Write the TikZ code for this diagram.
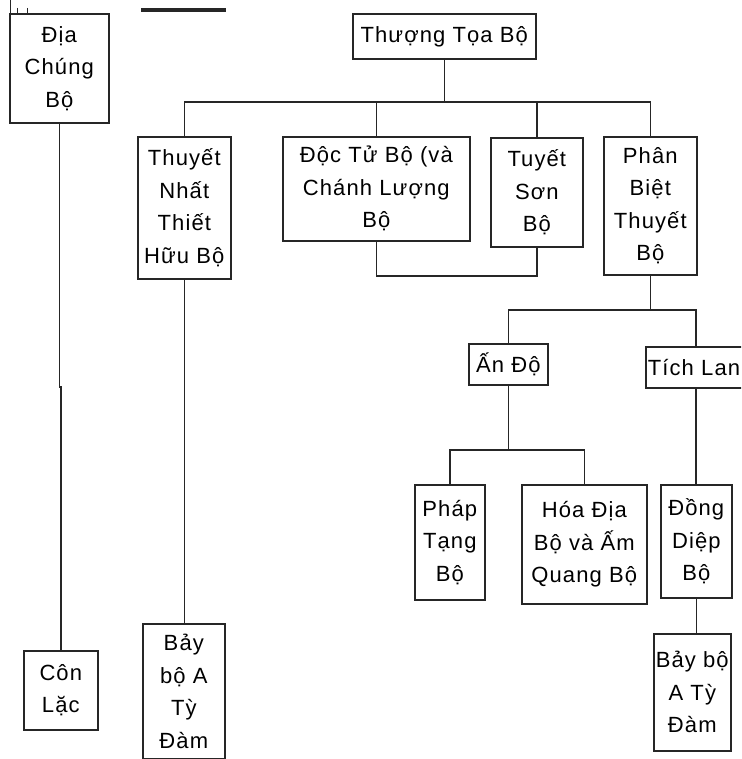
\documentclass[tikz,border=0pt]{standalone}
\usepackage{fontspec}
\setmainfont{Liberation Sans}[LetterSpace=5]
\begin{document}
\begin{tikzpicture}[x=1pt,y=-1pt,
  box/.style={draw=black!85, line width=1.6pt, anchor=north west, inner sep=0pt,
    align=center, font=\fontsize{22}{32.5}\selectfont},
  link/.style={draw=black!85, line width=1.6pt}]
\useasboundingbox (0,0) rectangle (741,759);
\clip (0,0) rectangle (741,759);
% top fragments
\draw[link, line width=3.2pt] (141,10) -- (226,10);
\draw[link, line width=0.8pt] (10,0) -- (10,13) (17,8) -- (17,13) (27,8) -- (27,13) (10,13) -- (35,13);
% boxes
\node[box, minimum width=99, minimum height=109] (dia) at (9,13) {Địa\\Chúng\\Bộ};
\node[box, minimum width=183, minimum height=45] (thuong) at (352,13) {Thượng Tọa Bộ};
\node[box, minimum width=93, minimum height=142] (thuyet) at (137,136) {Thuyết\\Nhất\\Thiết\\Hữu Bộ};
\node[box, minimum width=187, minimum height=104] (doc) at (282,136) {Độc Tử Bộ (và\\Chánh Lượng\\Bộ};
\node[box, minimum width=92, minimum height=109] (tuyet) at (490,137) {Tuyết\\Sơn\\Bộ};
\node[box, minimum width=93, minimum height=138] (phan) at (603,136) {Phân\\Biệt\\Thuyết\\Bộ};
\node[box, minimum width=79, minimum height=41] (ando) at (468,343) {Ấn Độ};
\node[box, minimum width=100, minimum height=41, text width=96, inner xsep=2pt, align=left] (tich) at (645,346) {Tích Lan};
\node[box, minimum width=70, minimum height=115] (phap) at (414,484) {Pháp\\Tạng\\Bộ};
\node[box, minimum width=125, minimum height=119] (hoa) at (521,484) {Hóa Địa\\Bộ và Ấm\\Quang Bộ};
\node[box, minimum width=71, minimum height=113] (dong) at (660,484) {Đồng\\Diệp\\Bộ};
\node[box, minimum width=74, minimum height=79] (con) at (23,650) {Côn\\Lặc};
\node[box, minimum width=82, minimum height=135] (bayL) at (142,623) {Bảy\\bộ A\\Tỳ\\Đàm};
\node[box, minimum width=77, minimum height=117] (bayR) at (653,633) {Bảy bộ\\A Tỳ\\Đàm};
% helper coordinates
\coordinate (j1) at (0,387);
\coordinate (bus) at (0,102);
\coordinate (b2) at (0,276);
\coordinate (b3) at (0,310);
\coordinate (b4) at (0,450);
% connectors
\draw[link] (dia.south) -- (dia.south |- j1) -| (con.north);
\draw[link] (thuong.south) -- (thuong.south |- bus);
\draw[link] (thuyet.north) |- (phan.north |- bus) -- (phan.north);
\draw[link] (doc.north) -- (doc.north |- bus);
\draw[link] (tuyet.north) -- (tuyet.north |- bus);
\draw[link] (doc.south) |- (tuyet.south |- b2) -- (tuyet.south);
\draw[link] (thuyet.south) -- (thuyet.south |- bayL.north);
\draw[link] (phan.south) -- (phan.south |- b3);
\draw[link] (ando.north) |- (tich.north |- b3) -- (tich.north);
\draw[link] (ando.south) -- (ando.south |- b4);
\draw[link] (phap.north) |- (hoa.north |- b4) -- (hoa.north);
\draw[link] (tich.south) -- (tich.south |- dong.north);
\draw[link] (dong.south) -- (dong.south |- bayR.north);
\end{tikzpicture}
\end{document}
